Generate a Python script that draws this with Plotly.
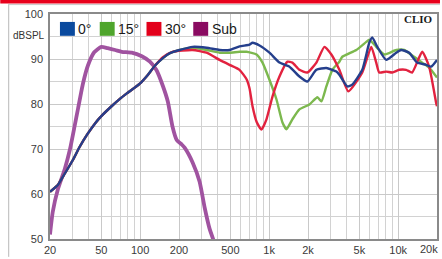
import plotly.graph_objects as go

# ---------------- data ----------------
freq_0 = [20, 23, 26, 30, 34, 39, 45, 50, 60, 70, 80, 100, 115, 130, 150, 170, 202, 255, 327, 413, 493, 590, 704,
          743, 842, 1005, 1202, 1436, 1716, 1978, 2323, 2775, 3318, 3500, 4035, 4405, 5270, 5970,
          6300, 6890, 8080, 9660, 10550, 12170, 14030, 16480, 17990, 20000]
db_0 = [60.5, 62.0, 64.5, 67.5, 70.5, 73.3, 75.8, 77.3, 79.5, 81.2, 82.5, 84.6, 86.5, 88.5, 90.2, 91.3, 92.0, 92.7,
        92.5, 92.0, 92.0, 92.8, 93.2,
        93.6, 93.0, 91.4, 89.2, 88.3, 86.1, 85.0, 87.6, 88.0, 87.2, 86.5, 83.9, 84.3, 87.6, 93.6,
        94.8, 92.7, 89.8, 91.4, 92.0, 91.4, 89.2, 88.7, 88.3, 89.8]

freq_15 = [20, 23, 26, 30, 34, 39, 45, 50, 60, 70, 80, 100, 115, 130, 150, 170, 202, 255, 327, 413, 493, 590, 668,
           798, 888, 1005, 1140, 1268, 1362, 1514, 1716, 2051, 2366, 2541, 2775, 3090, 3500, 3690,
           4735, 5660, 5970, 6760, 7800, 9660, 11140, 13300, 15350, 17380, 20000]
db_15 = [60.5, 62.0, 64.5, 67.5, 70.5, 73.3, 75.8, 77.3, 79.5, 81.2, 82.5, 84.6, 86.5, 88.5, 90.2, 91.3, 92.0, 92.5,
         92.0, 91.4, 91.4, 91.6, 91.6,
         91.0, 89.2, 85.4, 81.0, 75.9, 74.4, 76.6, 78.8, 79.9, 81.5, 80.6, 83.9, 87.6, 89.4, 90.5,
         92.0, 93.8, 94.3, 92.7, 91.0, 92.0, 92.0, 90.5, 89.2, 88.1, 85.9]

freq_30 = [20, 23, 26, 30, 34, 39, 45, 50, 60, 70, 80, 100, 115, 130, 150, 178, 255, 327, 413, 493, 589, 668, 704,
           743, 800, 870, 953, 1062, 1202, 1386, 1514, 1716, 1978, 2323, 2680, 3035, 3500, 4105,
           5270, 6185, 6760, 7130, 8080, 9000, 10190, 11530, 12830, 15350, 17380, 19690, 20000]
db_30 = [60.5, 62.0, 64.5, 67.5, 70.5, 73.3, 75.8, 77.3, 79.5, 81.2, 82.5, 84.6, 86.5, 88.5, 90.4, 91.6, 92.0, 91.4,
         89.8, 88.7, 87.6, 85.5, 83.5,
         79.5, 76.0, 74.3, 76.6, 81.7, 86.1, 89.4, 89.2, 87.6, 87.0, 89.2, 92.7, 91.0, 87.6, 82.8,
         87.0, 92.7, 89.2, 87.0, 87.2, 87.0, 87.6, 87.6, 87.0, 91.6, 88.3, 80.3, 79.5]

freq_sub = [20, 21, 23, 26, 28.6, 31, 33, 36, 39.3, 44, 50, 56, 64, 72, 86,
            103, 119, 134, 150, 164, 178, 192, 210, 221, 255, 289, 316, 345, 378, 420]
db_sub = [51.0, 56.0, 61.0, 65.5, 70.0, 75.0, 79.0, 84.5, 88.5, 91.5, 92.7, 92.4, 92.0, 91.6, 91.4,
          90.6, 89.4, 87.5, 84.0, 80.5, 75.0, 72.0, 71.0, 70.3, 67.0, 62.7, 57.0, 52.3, 49.0, 45.0]

series_names = ["0°", "15°", "30°", "Sub"]
line_colors = ["#253f8c", "#7cb84e", "#e2223f", "#a053a0"]
legend_colors = ["#0a4a9e", "#4fa52c", "#e3001b", "#8a0b61"]

x_tickvals = [20, 50, 100, 200, 500, 1000, 2000, 5000, 10000, 20000]
x_ticktext = ["20", "50", "100", "200", "500", "1k", "2k", "5k", "10k", "20k"]
minor_vals = [m * 10 ** d for d in range(1, 5) for m in range(1, 10) if 20 <= m * 10 ** d <= 20000]
y_tickvals = [50, 60, 70, 80, 90, 100]

# ---------------- figure ----------------
W, H = 442, 259
L, R, T, B = 50, 3, 14, 18
pw, ph = W - L - R, H - T - B


def px(x):
    return (x - L) / pw


def py(y):
    return (H - B - y) / ph


fig = go.Figure()
order = [3, 1, 2, 0]
data = [(freq_0, db_0), (freq_15, db_15), (freq_30, db_30), (freq_sub, db_sub)]
for i in order:
    f, d = data[i]
    fig.add_trace(go.Scatter(
        x=f, y=d, mode="lines", name=series_names[i],
        line=dict(color=line_colors[i], width=3.8 if i == 3 else 2.4, shape="spline", smoothing=0.5),
        showlegend=False, hoverinfo="skip"))

shapes = []
annotations = []
# top red band and outer border
shapes.append(dict(type="rect", xref="paper", yref="paper", x0=px(0), x1=px(W), y0=py(3.5), y1=py(0),
                   fillcolor="#e8001c", line=dict(width=0), layer="above"))
shapes.append(dict(type="line", xref="paper", yref="paper", x0=px(8.5), x1=px(8.5), y0=py(H), y1=py(4),
                   line=dict(color="#b8b8b8", width=1)))
shapes.append(dict(type="line", xref="paper", yref="paper", x0=px(8.5), x1=px(W), y0=py(4.5), y1=py(4.5),
                   line=dict(color="#c8c8c8", width=1)))

# legend
leg_x = [60, 100, 147, 194]
for i in range(4):
    x0 = leg_x[i]
    shapes.append(dict(type="rect", xref="paper", yref="paper", x0=px(x0), x1=px(x0 + 15),
                       y0=py(36), y1=py(22), fillcolor=legend_colors[i], line=dict(width=0), layer="above"))
    annotations.append(dict(text=series_names[i], xref="paper", yref="paper", x=px(x0 + 16.5), y=py(29.5),
                            xanchor="left", yanchor="middle", showarrow=False,
                            font=dict(family="Liberation Sans Narrow, Arial Narrow, Liberation Sans", size=14,
                                      color="#1a1a1a")))

annotations.append(dict(text="<b>CLIO</b>", xref="paper", yref="paper", x=px(437), y=py(19.5),
                        xanchor="right", yanchor="middle", showarrow=False,
                        font=dict(family="Liberation Serif, DejaVu Serif", size=11, color="#1a1a1a")))
annotations.append(dict(text="dBSPL", xref="paper", yref="paper", x=px(47), y=py(36),
                        xanchor="right", yanchor="middle", showarrow=False,
                        font=dict(family="Liberation Sans, Arial", size=10, color="#333333")))
# last tick label at the right edge (kept fully visible)
annotations.append(dict(text=x_ticktext[-1], xref="paper", yref="paper", x=px(442), y=py(251),
                        xanchor="right", yanchor="middle", showarrow=False,
                        font=dict(family="Liberation Sans, Arial", size=11, color="#3a3a3a")))

fig.update_layout(
    width=W, height=H,
    margin=dict(l=L, r=R, t=T, b=B, pad=0),
    paper_bgcolor="white", plot_bgcolor="white",
    shapes=shapes, annotations=annotations,
    font=dict(family="Liberation Sans, Arial", size=11, color="#3a3a3a"),
    xaxis=dict(type="log", range=[1.30103, 4.30103], tickmode="array", tickvals=x_tickvals[:-1],
               ticktext=x_ticktext[:-1], showgrid=True, gridcolor="#c9c9c9", gridwidth=1,
               minor=dict(tickmode="array", tickvals=minor_vals, showgrid=True, gridcolor="#d2d2d2",
                          gridwidth=1, ticks=""),
               showline=True, linecolor="#8a8a8a", linewidth=1.5, mirror=True, ticks="",
               tickfont=dict(size=11, color="#3a3a3a"), zeroline=False, fixedrange=True),
    yaxis=dict(range=[50, 100], tickmode="array", tickvals=y_tickvals, showgrid=True,
               gridcolor="#c9c9c9", gridwidth=1,
               minor=dict(dtick=5, showgrid=True, gridcolor="#d2d2d2", gridwidth=1, ticks=""),
               showline=True, linecolor="#8a8a8a", linewidth=1.5, mirror=True, ticks="",
               ticklabelstandoff=3, tickfont=dict(size=11, color="#3a3a3a"), zeroline=False,
               fixedrange=True),
)

fig.write_html("out.html", config={"displayModeBar": False},
               post_script="document.body.style.margin='0';document.body.style.padding='0';")
